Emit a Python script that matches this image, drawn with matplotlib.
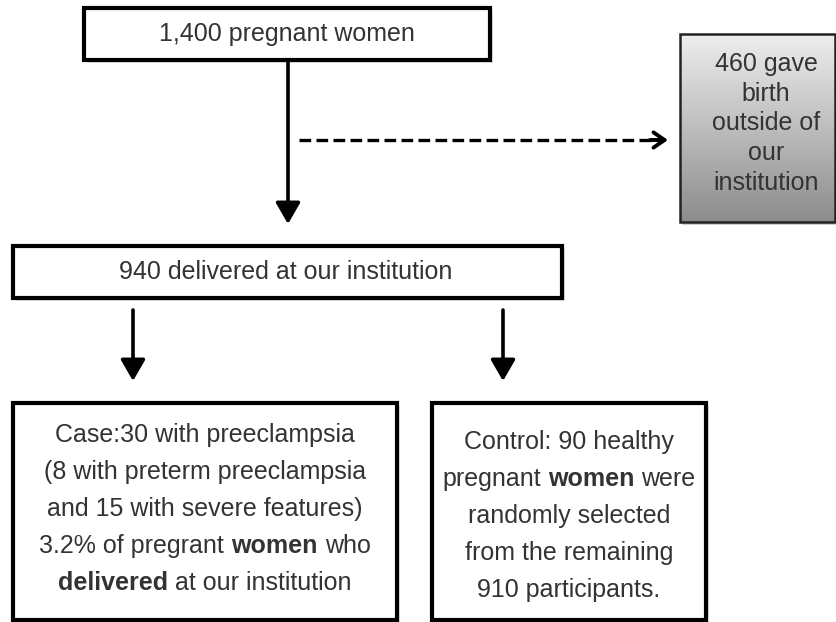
import matplotlib
matplotlib.use("Agg")
import matplotlib.pyplot as plt
from matplotlib.patches import Rectangle
import numpy as np

plt.rcParams['font.family'] = ['Liberation Sans', 'DejaVu Sans']

# box texts, one list of segments per line: (text, bold)
top_lines = [[("1,400 pregnant women", False)]]
outside_lines = [[("460 gave", False)], [("birth", False)], [("outside of", False)],
                 [("our", False)], [("institution", False)]]
delivered_lines = [[("940 delivered at our institution", False)]]
case_lines = [
    [("Case:30 with preeclampsia", False)],
    [("(8 with preterm preeclampsia", False)],
    [("and 15 with severe features)", False)],
    [("3.2% of pregrant", False), ("women", True), ("who", False)],
    [("delivered", True), ("at our institution", False)],
]
control_lines = [
    [("Control: 90 healthy", False)],
    [("pregnant", False), ("women", True), ("were", False)],
    [("randomly selected", False)],
    [("from the remaining", False)],
    [("910 participants.", False)],
]

FS = 18
TXT = "#333333"

fig = plt.figure(figsize=(8.37, 6.22), dpi=100)
ax = fig.add_axes([0, 0, 1, 1])
ax.set_xlim(0, 837)
ax.set_ylim(622, 0)
ax.axis("off")
renderer = fig.canvas.get_renderer()


def text_width(s, bold):
    t = ax.text(0, 0, s, fontsize=FS, fontweight="bold" if bold else "normal")
    w = t.get_window_extent(renderer).width
    t.remove()
    return w


space_w = text_width("a a", False) - text_width("aa", False)


def draw_line(segs, xc, y):
    widths = [text_width(s, b) for s, b in segs]
    total = sum(widths) + space_w * (len(segs) - 1)
    x = xc - total / 2
    for (s, b), w in zip(segs, widths):
        ax.text(x, y, s, fontsize=FS, fontweight="bold" if b else "normal",
                color=TXT, ha="left", va="center")
        x += w + space_w


def box(x0, y0, x1, y1, lw=3):
    ax.add_patch(Rectangle((x0 + 3, y0 + 3), x1 - x0, y1 - y0, facecolor="#e4e4e4",
                           edgecolor="none", zorder=0))
    ax.add_patch(Rectangle((x0, y0), x1 - x0, y1 - y0, facecolor="white",
                           edgecolor="black", lw=lw, zorder=1))


def lines_in(lines, xc, y_first, pitch):
    for i, segs in enumerate(lines):
        draw_line(segs, xc, y_first + i * pitch)


# top box
box(84, 8, 490, 60)
lines_in(top_lines, 287, 34, 0)

# outside box with gradient
x0, y0, x1, y1 = 680, 34, 835, 222
ax.add_patch(Rectangle((x0 + 2, y0 + 3), x1 - x0, y1 - y0, facecolor="#d0d0d0",
                       edgecolor="none", zorder=0))
grad = np.linspace(0.93, 0.55, 200).reshape(-1, 1)
im = ax.imshow(grad, cmap="gray", vmin=0, vmax=1, extent=(x0, x1, y1, y0),
               aspect="auto", zorder=1)
frame = Rectangle((x0, y0), x1 - x0, y1 - y0, facecolor="none",
                  edgecolor="#222222", lw=1.8, zorder=2)
ax.add_patch(frame)
im.set_clip_path(frame)
ax.set_xlim(0, 837)
ax.set_ylim(622, 0)
lines_in(outside_lines, 766, 64, 29.7)

# delivered box
box(13, 246, 562, 298)
lines_in(delivered_lines, 286, 272, 0)

# case and control boxes
box(13, 403, 397, 620)
lines_in(case_lines, 205, 435, 37)
box(432, 403, 706, 620)
lines_in(control_lines, 569, 442, 37)

# arrows
solid = dict(arrowstyle="-|>,head_width=0.75,head_length=1.3", color="black",
             lw=2.6, shrinkA=0, shrinkB=0)
ax.annotate("", xy=(288, 224), xytext=(288, 62), arrowprops=solid)
ax.annotate("", xy=(133, 381), xytext=(133, 310), arrowprops=solid)
ax.annotate("", xy=(503, 381), xytext=(503, 310), arrowprops=solid)

ax.plot([299, 662], [140, 140], color="black", lw=2.4, ls=(0, (3.5, 1.6)))
ax.annotate("", xy=(668, 140), xytext=(650, 140),
            arrowprops=dict(arrowstyle="->,head_width=0.55,head_length=0.8",
                            color="black", lw=2.8, shrinkA=0, shrinkB=0))

fig.savefig("out.png", dpi=100)
